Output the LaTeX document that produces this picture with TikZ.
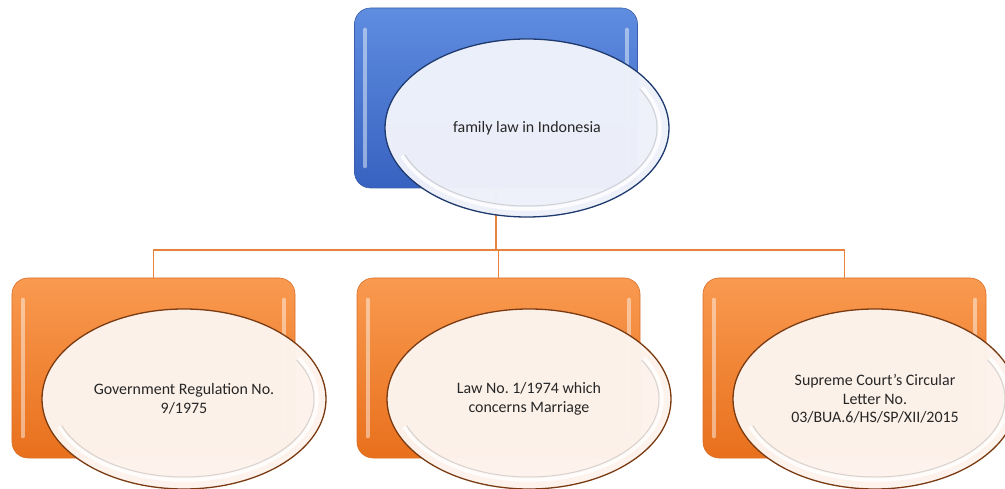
\documentclass[tikz,border=0pt]{standalone}
\usepackage{fontspec}
\setmainfont{Carlito}
\frenchspacing
\usetikzlibrary{shapes.geometric}
\definecolor{bluetop}{HTML}{5F8DE0}
\definecolor{bluebot}{HTML}{3862C0}
\definecolor{blueedge}{HTML}{3A5EAA}
\definecolor{orangetop}{HTML}{F99A50}
\definecolor{orangebot}{HTML}{E8701C}
\definecolor{orangeedge}{HTML}{D9702A}
\definecolor{ellblue}{HTML}{EEF1FA}
\definecolor{ellblueedge}{HTML}{1F3A6E}
\definecolor{ellorange}{HTML}{FDF3EC}
\definecolor{ellorangeedge}{HTML}{7A3A12}
\definecolor{linkcol}{HTML}{E8823C}
\tikzset{
  x=1bp, y=-1bp,
  topbox/.style={rectangle, rounded corners=16bp, minimum width=283bp, minimum height=180bp,
    top color=bluetop, bottom color=bluebot, draw=blueedge, line width=0.6bp, inner sep=0},
  lowbox/.style={rectangle, rounded corners=16bp, minimum width=283bp, minimum height=180bp,
    top color=orangetop, bottom color=orangebot, draw=orangeedge, line width=0.6bp, inner sep=0},
  topell/.style={ellipse, minimum width=284bp, minimum height=178bp, inner sep=0,
    fill=ellblue, fill opacity=0.985, text opacity=1, draw=ellblueedge, line width=1.3bp,
    align=center, font=\fontsize{16}{18.5}\selectfont\frenchspacing, text=black!85},
  lowell/.style={ellipse, minimum width=284bp, minimum height=180bp, inner sep=0,
    fill=ellorange, fill opacity=0.985, text opacity=1, draw=ellorangeedge, line width=1.3bp,
    align=center, font=\fontsize{16}{18.5}\selectfont\frenchspacing, text=black!85},
  shine/.style={white, line width=4bp, line cap=round, opacity=0.45},
  rim/.style={white, line width=3.5bp, opacity=0.85},
  rimshadow/.style={black!30, line width=1bp, opacity=0.5},
  link/.style={draw=linkcol, line width=1.6bp}
}
\begin{document}
\begin{tikzpicture}
\useasboundingbox (0,0) rectangle (1005,489);
% boxes
\node[topbox] (top) at (496,98) {};
\node[lowbox] (b1) at (153.5,368) {};
\node[lowbox] (b2) at (498.5,368) {};
\node[lowbox] (b3) at (844.5,368) {};
% glossy stripes on boxes
\foreach \n in {top,b1,b2,b3}{
  \draw[shine] ([shift={(11,22)}]\n.north west) -- ([shift={(11,-22)}]\n.south west);
  \draw[shine] ([shift={(-11,22)}]\n.north east) -- ([shift={(-11,-22)}]\n.south east);
}
% connectors
\coordinate (jn) at (496,250);
\draw[link] (top.south) -- (jn);
\draw[link] (jn) -| (b1.north);
\draw[link] (jn) -| (b2.north);
\draw[link] (jn) -| (b3.north);
% ellipses
\node[topell] (e0) at (527,128) {family law in Indonesia};
\node[lowell] (e1) at (184,399) {Government Regulation No.\\9/1975};
\node[lowell] (e2) at (529,399) {Law No.\ 1/1974 which\\concerns Marriage};
\node[lowell] (e3) at (875,399) {Supreme Court’s Circular\\Letter No.\\03/BUA.6/HS/SP/XII/2015};
% inner rims
\foreach \n in {e0,e1,e2,e3}{
  \draw[rimshadow] (\n.center) ++(-30:130 and 78) arc[start angle=-30, end angle=160, x radius=130, y radius=78];
  \draw[rim] (\n.center) ++(-30:133 and 81) arc[start angle=-30, end angle=160, x radius=133, y radius=81];
}
\end{tikzpicture}
\end{document}
